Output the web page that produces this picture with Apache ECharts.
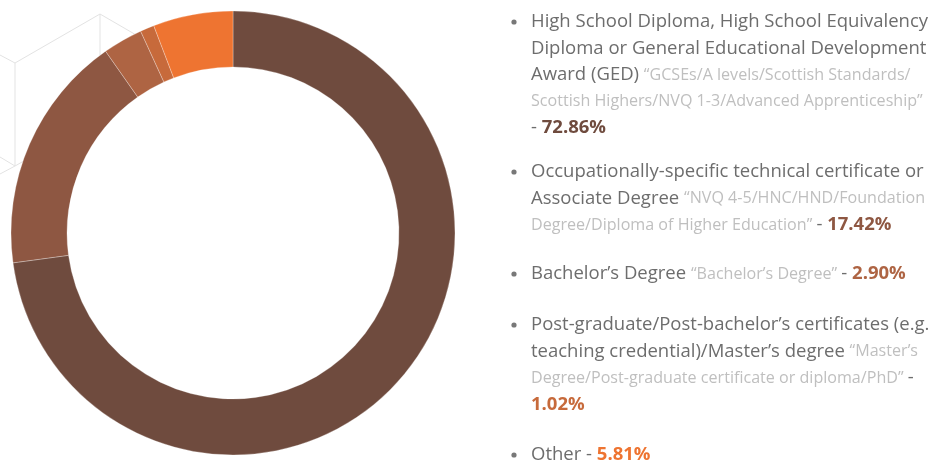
<!DOCTYPE html>
<html>
<head>
<meta charset="utf-8">
<script src="https://cdn.jsdelivr.net/npm/echarts@6/dist/echarts.min.js"></script>
<style>
  html, body { margin: 0; padding: 0; background: #ffffff; }
  #chart { width: 938px; height: 466px; }
</style>
</head>
<body>
<div id="chart"></div>
<script>
// Highest qualification held
const categories = [
  'High School Diploma, High School Equivalency Diploma or General Educational Development Award (GED)',
  'Occupationally-specific technical certificate or Associate Degree',
  'Bachelor’s Degree',
  'Post-graduate/Post-bachelor’s certificates (e.g. teaching credential)/Master’s degree',
  'Other'
];
// UK equivalents shown in quotes after each category
const equivalents = [
  'GCSEs/A levels/Scottish Standards/ Scottish Highers/NVQ 1-3/Advanced Apprenticeship',
  'NVQ 4-5/HNC/HND/Foundation Degree/Diploma of Higher Education',
  'Bachelor’s Degree',
  'Master’s Degree/Post-graduate certificate or diploma/PhD',
  ''
];
// Share of respondents, percent
const values = [72.86, 17.42, 2.90, 1.02, 5.81];

const sliceColors = ['#6f4b3e', '#8e5742', '#ae6443', '#c76a3b', '#ee7431'];

const FONT = '"Open Sans", "Noto Sans", sans-serif';
const LH = 26.5;
const styles = {
  n: { fontFamily: FONT, fontSize: 18.5, fill: '#6d6d6d', lineHeight: LH },
  q: { fontFamily: FONT, fontSize: 16.1, fill: '#bfbfbf', lineHeight: LH }
};
sliceColors.forEach((c, i) => {
  styles['p' + i] = { fontFamily: FONT, fontSize: 18.5, fontWeight: 'bold', fill: c, lineHeight: LH };
});

// Word wrapping of the legend paragraphs, measured with the same fonts
const ctx = document.createElement('canvas').getContext('2d');
function measure(str, st) {
  ctx.font = (st.fontWeight || 'normal') + ' ' + st.fontSize + 'px ' + st.fontFamily;
  return ctx.measureText(str).width;
}
function wrapTokens(tokens, maxW) {
  const lines = [[]];
  let w = 0;
  tokens.forEach(tk => {
    const tw = measure(tk.t, styles[tk.s]);
    const cur = lines[lines.length - 1];
    const sp = cur.length ? measure(' ', styles[cur[cur.length - 1].s]) : 0;
    if (cur.length && w + sp + tw > maxW) {
      lines.push([tk]);
      w = tw;
    } else {
      cur.push(tk);
      w += sp + tw;
    }
  });
  return lines;
}
function toRich(lines) {
  return lines.map(line => {
    let out = '', curS = null, buf = '';
    line.forEach(tk => {
      if (tk.s === curS) {
        buf += ' ' + tk.t;
      } else {
        if (curS !== null) out += '{' + curS + '|' + buf + ' }';
        curS = tk.s;
        buf = tk.t;
      }
    });
    out += '{' + curS + '|' + buf + '}';
    return out;
  }).join('\n');
}
function itemTokens(i) {
  const tokens = [];
  categories[i].split(' ').forEach(t => tokens.push({ t: t, s: 'n' }));
  if (equivalents[i]) {
    ('“' + equivalents[i] + '”').split(' ').filter(Boolean).forEach(t => tokens.push({ t: t, s: 'q' }));
  }
  tokens.push({ t: '-', s: 'n' });
  tokens.push({ t: values[i].toFixed(2) + '%', s: 'p' + i });
  return tokens;
}

// Legend layout: first-line centre of each paragraph
const textX = 531;
const bulletX = 514;
const firstLineY = [22, 172, 274, 325, 455];

const graphics = [];
// faint isometric outline behind the ring
const outline = { stroke: '#e3e3e3', lineWidth: 1, fill: null };
[
  [[0, 55], [15, 63], [100, 14], [100, 60]],
  [[100, 14], [150, 43]],
  [[15, 63], [15, 166]],
  [[0, 157], [15, 166], [0, 174]],
  [[15, 166], [45, 149]]
].forEach(pts => {
  graphics.push({ type: 'polyline', z: 0, silent: true, shape: { points: pts }, style: outline });
});

categories.forEach((c, i) => {
  const lines = wrapTokens(itemTokens(i), 399);
  graphics.push({
    type: 'circle', silent: true,
    shape: { cx: bulletX, cy: firstLineY[i], r: 2.6 },
    style: { fill: '#787878' }
  });
  graphics.push({
    type: 'text', silent: true,
    x: textX, y: firstLineY[i] - LH / 2,
    style: {
      text: toRich(lines),
      rich: styles,
      verticalAlign: 'top',
      align: 'left'
    }
  });
});

const chart = echarts.init(document.getElementById('chart'), null, { renderer: 'canvas' });
chart.setOption({
  animation: false,
  backgroundColor: '#ffffff',
  graphic: graphics,
  series: [{
    type: 'pie',
    z: 5,
    silent: true,
    center: [233, 233],
    radius: [166, 222],
    startAngle: 90,
    clockwise: true,
    label: { show: false },
    labelLine: { show: false },
    emphasis: { disabled: true },
    itemStyle: { borderColor: 'rgba(255,255,255,0.35)', borderWidth: 0.8 },
    data: categories.map((c, i) => ({ name: c, value: values[i], itemStyle: { color: sliceColors[i] } }))
  }]
});
</script>
</body>
</html>
